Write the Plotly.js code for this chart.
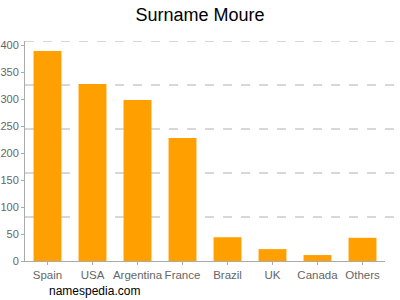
<!DOCTYPE html>
<html><head><meta charset="utf-8">
<script src="https://cdn.plot.ly/plotly-3.0.1.min.js"></script>
<style>body{margin:0;padding:0;}#chart{width:400px;height:300px;}</style>
</head><body><div id="chart"></div>
<script>
const countries = ["Spain","USA","Argentina","France","Brazil","UK","Canada","Others"];
const counts = [389, 328, 298, 228, 44, 22, 11, 43];
const gridValues = [81.5, 163, 244.5, 326, 407.5];

const shapes = gridValues.map(v => ({
  type: 'line', xref: 'paper', yref: 'y', x0: 0, x1: 1.036, y0: v, y1: v,
  line: {color: '#b0b0b0', width: 1, dash: 'dash'}, layer: 'below'
}));

Plotly.newPlot('chart', [{
  type: 'bar', x: countries, y: counts,
  marker: {color: '#ff9f00'}, width: 0.62, hoverinfo: 'none'
}], {
  width: 400, height: 300,
  margin: {l: 25, r: 15, t: 41, b: 39},
  paper_bgcolor: '#fff', plot_bgcolor: '#fff',
  title: {text: 'Surname Moure', font: {family: 'Liberation Sans, Arial', size: 18, color: '#000'}, x: 0.5, xanchor: 'center', y: 0.95, yanchor: 'middle'},
  font: {family: 'Liberation Sans, Arial', size: 11.5, color: '#666'},
  xaxis: {showline: true, linecolor: '#aaa', ticks: 'outside', ticklen: 3, tickcolor: '#aaa', showgrid: false, range: [-0.5, 7.5], tickangle: 0, fixedrange: true},
  yaxis: {range: [0, 407.5], dtick: 50, showline: true, linecolor: '#aaa', ticks: 'outside', ticklen: 3, tickcolor: '#aaa', showgrid: false, zeroline: false, fixedrange: true, tickfont: {size: 11}},
  shapes: shapes,
  annotations: [{text: 'namespedia.com', xref: 'paper', yref: 'paper', x: 0.061, y: -0.136, xanchor: 'left', yanchor: 'middle', showarrow: false, font: {family: 'Liberation Sans, Arial', size: 12, color: '#000'}}],
  showlegend: false
}, {displayModeBar: false, staticPlot: true});
</script></body></html>
